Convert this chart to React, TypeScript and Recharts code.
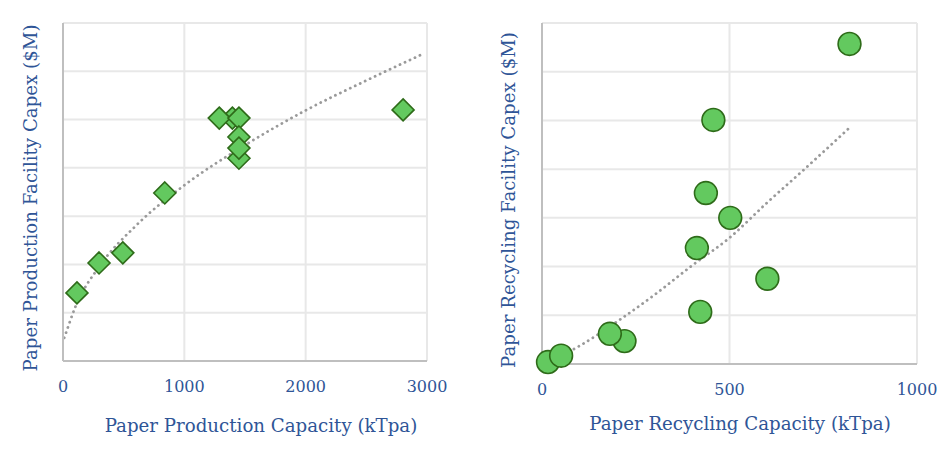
import { ComposedChart, Scatter, Line, XAxis, YAxis, CartesianGrid } from "recharts";

// colours
const BLUE = "#2f5597";
const FILL = "#63c95f";
const EDGE = "#2e6b19";
const GRID = "#e8e8e8";
const AXIS = "#bfbfbf";
const TREND = "#9a9a9a";
const FONT = "'DejaVu Serif', 'Liberation Serif', serif";

// production: capacity (kTpa) vs capex (gridline units, axis unlabelled)
const prodCapacity = [115, 297, 493, 839, 1396, 1288, 1450, 1450, 1450, 1450, 2803];
const prodCapex = [1.41, 2.03, 2.24, 3.48, 5.03, 5.03, 5.03, 4.2, 4.64, 4.41, 5.2];
const prodTrendX = [10, 20, 100, 300, 600, 1000, 1500, 2000, 2500, 2950];
const prodTrendY = [0.48, 0.55, 1.11, 1.96, 2.8, 3.64, 4.47, 5.19, 5.81, 6.34];
const prodTicks = [0, 1000, 2000, 3000];

// recycling: capacity (kTpa) vs capex
const recCapacity = [16, 51, 220, 181, 413, 422, 437, 457, 502, 601, 820];
const recCapex = [0.04, 0.17, 0.47, 0.62, 2.38, 1.07, 3.51, 5.01, 3.0, 1.75, 6.57];
const recTrendX = [20, 100, 200, 300, 400, 500, 600, 700, 817];
const recTrendY = [0.05, 0.37, 0.87, 1.42, 2.02, 2.59, 3.31, 4.0, 4.83];
const recTicks = [0, 500, 1000];

const yTicks = [0, 1, 2, 3, 4, 5, 6, 7];

const zip = (xs: number[], ys: number[]) => xs.map((x, i) => ({ x, y: ys[i] }));

const Diamond = (props: any) => {
    const { cx, cy } = props;
    const h = 11;
    return (
        <polygon
            points={`${cx},${cy - h} ${cx + h},${cy} ${cx},${cy + h} ${cx - h},${cy}`}
            fill={FILL}
            stroke={EDGE}
            strokeWidth={1.6}
        />
    );
};

const Dot = (props: any) => {
    const { cx, cy } = props;
    return <circle cx={cx} cy={cy} r={11.4} fill={FILL} stroke={EDGE} strokeWidth={1.6} />;
};

// y axis has no labels in the original
const NoTick = () => <g />;

const tickStyle = { fill: BLUE, fontSize: 16, fontFamily: FONT };

type PanelProps = {
    left: number;
    margin: { top: number; right: number; left: number; bottom: number };
    points: { x: number; y: number }[];
    trend: { x: number; y: number }[];
    ticks: number[];
    shape: (p: any) => any;
    xTitle: string;
    yTitle: string;
    xTitlePos: [number, number];
    yTitlePos: [number, number];
};

const Panel = ({ left, margin, points, trend, ticks, shape, xTitle, yTitle, xTitlePos, yTitlePos }: PanelProps) => (
    <>
        <div style={{ position: "absolute", left, top: 0 }}>
            <ComposedChart width={475} height={455} margin={margin}>
                <CartesianGrid stroke={GRID} strokeWidth={2} horizontalValues={yTicks} verticalValues={ticks} />
                <XAxis
                    type="number"
                    dataKey="x"
                    domain={[ticks[0], ticks[ticks.length - 1]]}
                    ticks={ticks}
                    height={30}
                    tickLine={false}
                    tickMargin={14}
                    tick={tickStyle}
                    stroke={AXIS}
                    strokeWidth={2}
                    interval={0}
                />
                <YAxis
                    type="number"
                    dataKey="y"
                    domain={[0, 7]}
                    ticks={yTicks}
                    width={10}
                    tick={NoTick}
                    tickLine={false}
                    stroke={AXIS}
                    strokeWidth={2}
                    interval={0}
                />
                <Scatter data={points} shape={shape} isAnimationActive={false} />
                <Line
                    data={trend}
                    dataKey="y"
                    type="monotone"
                    dot={false}
                    stroke={TREND}
                    strokeWidth={2.8}
                    strokeDasharray="0.1 5.4"
                    strokeLinecap="round"
                    isAnimationActive={false}
                />
            </ComposedChart>
        </div>
        <div
            style={{
                position: "absolute",
                left: xTitlePos[0],
                top: xTitlePos[1],
                transform: "translate(-50%, -50%)",
                whiteSpace: "nowrap",
                color: BLUE,
                fontFamily: FONT,
                fontSize: 18.2,
            }}
        >
            {xTitle}
        </div>
        <div
            style={{
                position: "absolute",
                left: yTitlePos[0],
                top: yTitlePos[1],
                transform: "translate(-50%, -50%) rotate(-90deg)",
                whiteSpace: "nowrap",
                color: BLUE,
                fontFamily: FONT,
                fontSize: 18.2,
            }}
        >
            {yTitle}
        </div>
    </>
);

export default function App() {
    return (
        <div style={{ position: "absolute", left: 0, top: 0, width: 951, height: 455, background: "#fff" }}>
            <Panel
                left={0}
                margin={{ top: 23, right: 48, left: 53, bottom: 64 }}
                points={zip(prodCapacity, prodCapex)}
                trend={zip(prodTrendX, prodTrendY)}
                ticks={prodTicks}
                shape={Diamond}
                xTitle="Paper Production Capacity (kTpa)"
                yTitle="Paper Production Facility Capex ($M)"
                xTitlePos={[261, 425]}
                yTitlePos={[30, 198]}
            />
            <Panel
                left={476}
                margin={{ top: 23, right: 34, left: 56, bottom: 61 }}
                points={zip(recCapacity, recCapex)}
                trend={zip(recTrendX, recTrendY)}
                ticks={recTicks}
                shape={Dot}
                xTitle="Paper Recycling Capacity (kTpa)"
                yTitle="Paper Recycling Facility Capex ($M)"
                xTitlePos={[740, 423]}
                yTitlePos={[508, 200]}
            />
        </div>
    );
}
